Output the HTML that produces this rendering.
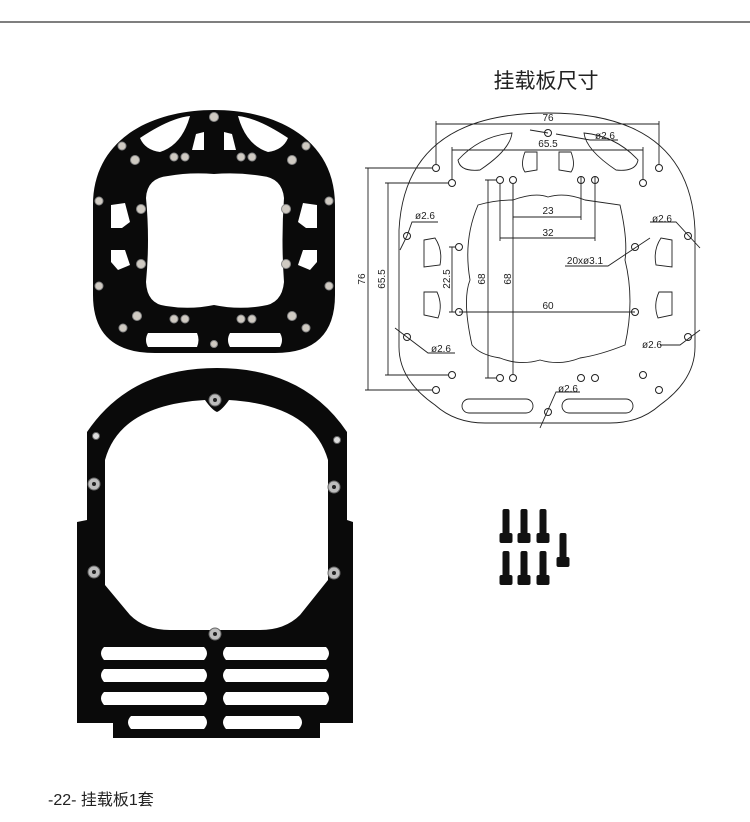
<!DOCTYPE html>
<html><head><meta charset="utf-8"><style>
html,body{margin:0;padding:0;background:#fff;}
svg{display:block}
text{font-family:"Liberation Sans","Noto Sans CJK SC",sans-serif;}
</style></head><body>
<svg width="750" height="822" viewBox="0 0 750 822" xmlns="http://www.w3.org/2000/svg">
<defs>
<g id="s"><rect x="-3.5" y="0" width="7" height="26" rx="2"/><rect x="-6.5" y="24" width="13" height="10" rx="2"/></g>
</defs>
<rect width="750" height="822" fill="#fff"/>
<line x1="0" y1="22" x2="750" y2="22" stroke="#333" stroke-width="1.2"/>
<text x="546" y="88" font-size="21" text-anchor="middle" fill="#222">挂载板尺寸</text>

<!-- Top plate photo -->
<g>
<path fill-rule="evenodd" fill="#0a0a0a" d="M93,205 C93,140 150,110 214,110 C278,110 335,140 335,205 L335,295 Q335,353 275,353 L155,353 Q93,353 93,295 Z
M168,176 Q190,172 214,174 Q238,172 262,176 Q282,178 284,198 Q281,240 284,282 Q282,304 262,306 Q238,310 214,305 Q190,310 166,306 Q147,304 146,282 Q150,240 146,198 Q147,178 168,176 Z
M140,138 Q170,118 190,116 Q182,145 160,152 Q145,150 140,138 Z
M288,138 Q258,118 238,116 Q246,145 268,152 Q283,150 288,138 Z
M196,134 L204,132 L204,150 L192,150 Z M224,132 L232,134 L236,150 L224,150 Z
M111,205 L125,203 L130,222 L122,228 L111,228 Z M317,205 L303,203 L298,222 L306,228 L317,228 Z
M111,250 L125,250 L130,265 L118,270 L111,262 Z M317,250 L303,250 L298,265 L310,270 L317,262 Z
M148,333 L197,333 Q200,340 197,347 L148,347 Q144,340 148,333 Z M230,333 L280,333 Q284,340 280,347 L230,347 Q226,340 230,333 Z"/>
<g fill="#cfcac2" stroke="#888" stroke-width="1">
<circle cx="214" cy="117" r="4.5"/><circle cx="122" cy="146" r="4"/><circle cx="306" cy="146" r="4"/>
<circle cx="135" cy="160" r="4.5"/><circle cx="174" cy="157" r="4"/><circle cx="185" cy="157" r="4"/><circle cx="241" cy="157" r="4"/><circle cx="252" cy="157" r="4"/><circle cx="292" cy="160" r="4.5"/>
<circle cx="99" cy="201" r="4"/><circle cx="329" cy="201" r="4"/><circle cx="141" cy="209" r="4.5"/><circle cx="286" cy="209" r="4.5"/>
<circle cx="141" cy="264" r="4.5"/><circle cx="286" cy="264" r="4.5"/><circle cx="99" cy="286" r="4"/><circle cx="329" cy="286" r="4"/>
<circle cx="137" cy="316" r="4.5"/><circle cx="174" cy="319" r="4"/><circle cx="185" cy="319" r="4"/><circle cx="241" cy="319" r="4"/><circle cx="252" cy="319" r="4"/><circle cx="292" cy="316" r="4.5"/>
<circle cx="123" cy="328" r="4"/><circle cx="306" cy="328" r="4"/><circle cx="214" cy="344" r="3.5"/>
</g>
</g>

<!-- Bottom plate photo -->
<g>
<path fill-rule="evenodd" fill="#0a0a0a" d="M87,432 Q130,368 217,368 Q304,368 347,432 L347,520 L353,522 L353,723 L320,723 L320,738 L113,738 L113,723 L77,723 L77,522 L87,520 Z
M105,460 Q120,405 205,400 Q212,410 217,412 Q222,410 229,400 Q312,405 328,460 L328,580 L300,615 Q285,630 260,630 L170,630 Q145,630 130,615 L105,585 Z
M104,647 L204,647 Q210,653 204,660 L104,660 Q98,653 104,647 Z M226,647 L326,647 Q332,653 326,660 L226,660 Q220,653 226,647 Z
M104,669 L204,669 Q210,675 204,682 L104,682 Q98,675 104,669 Z M226,669 L326,669 Q332,675 326,682 L226,682 Q220,675 226,669 Z
M104,692 L204,692 Q210,698 204,705 L104,705 Q98,698 104,692 Z M226,692 L326,692 Q332,698 326,705 L226,705 Q220,698 226,692 Z
M131,716 L204,716 Q210,722 204,729 L131,729 Q125,722 131,716 Z M226,716 L299,716 Q305,722 299,729 L226,729 Q220,722 226,716 Z"/>
<g fill="#bdbdbd" stroke="#666" stroke-width="1">
<circle cx="215" cy="400" r="6"/><circle cx="94" cy="484" r="6"/><circle cx="334" cy="487" r="6"/><circle cx="94" cy="572" r="6"/><circle cx="334" cy="573" r="6"/><circle cx="215" cy="634" r="6"/>
<circle cx="96" cy="436" r="3.5" fill="#ddd"/><circle cx="337" cy="440" r="3.5" fill="#ddd"/>
</g>
<g fill="#222"><circle cx="215" cy="400" r="2"/><circle cx="94" cy="484" r="2"/><circle cx="334" cy="487" r="2"/><circle cx="94" cy="572" r="2"/><circle cx="334" cy="573" r="2"/><circle cx="215" cy="634" r="2"/></g>
</g>

<!-- Technical drawing -->
<g fill="none" stroke="#222" stroke-width="0.9">
<path d="M399,230 Q405,113 548,113 Q690,113 695,230 L695,347 Q695,380 660,405 Q640,423 610,423 L485,423 Q455,423 435,405 Q399,380 399,347 Z"/>
<path d="M478,205 Q495,200 513,200 Q535,192 548,197 Q565,192 585,200 L620,205 Q628,240 625,260 Q635,300 625,345 Q600,355 580,358 Q560,366 540,360 Q520,366 500,358 Q480,355 472,345 Q462,300 470,280 Q463,240 478,205 Z"/>
<path d="M458,160 Q480,136 512,133 Q510,150 480,170 Q460,172 458,160 Z"/>
<path d="M638,160 Q616,136 584,133 Q586,150 616,170 Q636,172 638,160 Z"/>
<path d="M525,152 L537,152 L537,170 L525,172 Q520,165 525,152 Z"/>
<path d="M559,152 L571,152 Q576,165 571,172 L559,170 Z"/>
<path d="M424,240 L435,238 Q443,250 440,265 L424,267 Z"/>
<path d="M672,240 L661,238 Q653,250 656,265 L672,267 Z"/>
<path d="M424,292 L437,292 Q443,305 438,318 L424,315 Z"/>
<path d="M672,292 L659,292 Q653,305 658,318 L672,315 Z"/>
<rect x="462" y="399" width="71" height="14" rx="7"/>
<rect x="562" y="399" width="71" height="14" rx="7"/>
<g stroke-width="1">
<circle cx="436" cy="168" r="3.5"/><circle cx="659" cy="168" r="3.5"/><circle cx="452" cy="183" r="3.5"/><circle cx="643" cy="183" r="3.5"/>
<circle cx="500" cy="180" r="3.5"/><circle cx="513" cy="180" r="3.5"/><circle cx="581" cy="180" r="3.5"/><circle cx="595" cy="180" r="3.5"/>
<circle cx="459" cy="247" r="3.5"/><circle cx="635" cy="247" r="3.5"/><circle cx="459" cy="312" r="3.5"/><circle cx="635" cy="312" r="3.5"/>
<circle cx="407" cy="236" r="3.5"/><circle cx="688" cy="236" r="3.5"/><circle cx="407" cy="337" r="3.5"/><circle cx="688" cy="337" r="3.5"/>
<circle cx="452" cy="375" r="3.5"/><circle cx="643" cy="375" r="3.5"/><circle cx="436" cy="390" r="3.5"/><circle cx="659" cy="390" r="3.5"/>
<circle cx="500" cy="378" r="3.5"/><circle cx="513" cy="378" r="3.5"/><circle cx="581" cy="378" r="3.5"/><circle cx="595" cy="378" r="3.5"/>
<circle cx="548" cy="133" r="3.5"/><circle cx="548" cy="412" r="3.5"/>
</g>
<path d="M436,164 V121 M659,164 V121 M436,124 H659"/>
<path d="M452,179 V147 M643,179 V147 M452,150 H643"/>
<path d="M581,176 V220 M513,184 V220 M513,217 H581"/>
<path d="M595,176 V241 M500,184 V241 M500,238 H595"/>
<path d="M459,312 H635"/>
<path d="M432,168 H365 M432,390 H365 M368,168 V390"/>
<path d="M448,183 H385 M448,375 H385 M388,183 V375"/>
<path d="M455,247 H449 M455,312 H449 M452,247 V312"/>
<path d="M496,180 H485 M496,378 H485 M488,180 V378"/>
<path d="M513,184 V374"/>
<path d="M530,130 L548,133 M556,134 L590,140 H618"/>
<path d="M400,250 L407,236 L412,222 H438"/>
<path d="M650,222 H676 L700,248"/>
<path d="M395,328 L428,353 H455"/>
<path d="M700,330 L680,345 H660"/>
<path d="M540,428 L556,392 H580"/>
<path d="M565,266 H608 L650,238"/>
</g>
<g font-size="10" fill="#222" text-anchor="middle">
<text x="548" y="121">76</text>
<text x="548" y="147">65.5</text>
<text x="548" y="214">23</text>
<text x="548" y="236">32</text>
<text x="548" y="309">60</text>
<text x="605" y="139">ø2.6</text>
<text x="425" y="219">ø2.6</text>
<text x="662" y="222">ø2.6</text>
<text x="441" y="352">ø2.6</text>
<text x="652" y="348">ø2.6</text>
<text x="568" y="392">ø2.6</text>
<text x="585" y="264">20xø3.1</text>
<text transform="translate(365,279) rotate(-90)">76</text>
<text transform="translate(385,279) rotate(-90)">65.5</text>
<text transform="translate(450,279) rotate(-90)">22.5</text>
<text transform="translate(485,279) rotate(-90)">68</text>
<text transform="translate(511,279) rotate(-90)">68</text>
</g>

<g fill="#111">
<use href="#s" x="506" y="509"/><use href="#s" x="524" y="509"/><use href="#s" x="543" y="509"/>
<use href="#s" x="506" y="551"/><use href="#s" x="524" y="551"/><use href="#s" x="543" y="551"/>
<use href="#s" x="563" y="533"/>
</g>

<text x="48" y="805" font-size="16" fill="#222">-22-  挂载板1套</text>
</svg>
</body></html>
